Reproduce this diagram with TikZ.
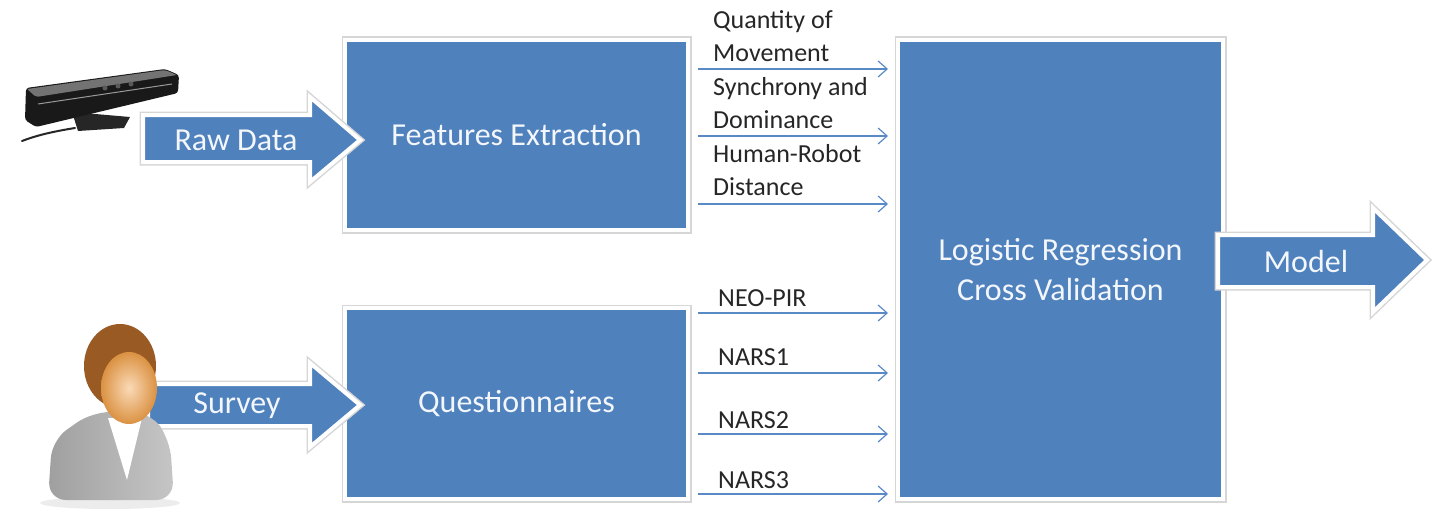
\documentclass[tikz,border=0pt]{standalone}
\usepackage{fontspec}
\setmainfont{Carlito}
\usetikzlibrary{arrows.meta,shadows}
\definecolor{boxblue}{HTML}{4F81BD}
\definecolor{lineblue}{HTML}{5A8AC6}
\definecolor{labelgray}{HTML}{262626}
\definecolor{hair}{HTML}{9A5A24}
\definecolor{skin}{HTML}{F3A24A}
\tikzset{
  rim/.style={preaction={draw=black!16, line width=7pt}, draw=white, line width=4pt},
  box/.style={fill=boxblue, rim, text=white!93!boxblue, font=\fontsize{32}{40}\selectfont, align=center, inner sep=0pt},
  bigarrow/.style={fill=boxblue, rim, line join=miter},
  arrowtext/.style={text=white!93!boxblue, font=\fontsize{32}{40}\selectfont, inner sep=0pt},
  flow/.style={draw=lineblue, line width=1.2pt, -{Straight Barb[length=9pt,width=16pt,line width=1.2pt]},
    shorten <=8pt, shorten >=8pt},
  lbl/.style={text=labelgray, font=\fontsize{26}{33}\selectfont, align=left, anchor=west, inner sep=0pt}
}
\begin{document}
\begin{tikzpicture}[x=1pt,y=-1pt]
\useasboundingbox (0,0) rectangle (1437,511);

% processing blocks
\node[box, minimum width=343pt, minimum height=190pt] (fe) at (516.5,135) {Features Extraction};
\node[box, minimum width=343pt, minimum height=191pt] (qu) at (516.5,403.5) {Questionnaires};
\node[box, minimum width=325pt, minimum height=459pt] (lr) at (1060.5,269.5) {Logistic Regression\\Cross Validation};

% input and output arrows
\path[bigarrow] (143,115) -- (310,115) -- (310,97) -- (360,140) -- (310,182) -- (310,162) -- (143,162) -- cycle;
\node[arrowtext] (raw) at (236,140) {Raw Data};
\path[bigarrow] (148,384) -- (310,384) -- (310,363) -- (360,405) -- (310,447) -- (310,426) -- (148,426) -- cycle;
\node[arrowtext] (survey) at (237,406) {Survey};
\path[bigarrow] (1218,235) -- (1373,235) -- (1373,208) -- (1427,260) -- (1373,312) -- (1373,287) -- (1218,287) -- cycle;
\node[arrowtext] (model) at (1306,261) {Model};

% feature connectors
\draw[flow] (fe.east |- 0,69) -- (lr.west |- 0,69);
\draw[flow] (fe.east |- 0,136) -- (lr.west |- 0,136);
\draw[flow] (fe.east |- 0,204) -- (lr.west |- 0,204);
\draw[flow] (qu.east |- 0,313) -- (lr.west |- 0,313);
\draw[flow] (qu.east |- 0,373) -- (lr.west |- 0,373);
\draw[flow] (qu.east |- 0,434) -- (lr.west |- 0,434);
\draw[flow] (qu.east |- 0,494) -- (lr.west |- 0,494);

\node[lbl] (l1) at (713,36) {Quantity of\\Movement};
\node[lbl] (l2) at (713,103) {Synchrony and\\Dominance};
\node[lbl] (l3) at (713,170) {Human-Robot\\Distance};
\node[lbl] (l4) at (718,298) {NEO-PIR};
\node[lbl] (l5) at (718,357) {NARS1};
\node[lbl] (l6) at (718,420) {NARS2};
\node[lbl] (l7) at (718,480) {NARS3};

% depth sensor
\draw[black!85, line width=2pt, line cap=round] (75,128) .. controls (50,132) and (35,136) .. (22,141);
\fill[black!85] (72,112) -- (130,117) -- (124,128) -- (78,131) -- cycle;
\fill[black!90, rounded corners=3pt] (26,88) -- (165,69) -- (179,75) -- (178,93) -- (36,127) -- (25,120) -- cycle;
\fill[black!55, rounded corners=2pt] (27,89) -- (165,70) -- (177,75) -- (36,97) -- cycle;
\draw[black!40, line width=1pt] (38,104) -- (172,84);
\fill[black!65] (105,88) circle (2.5pt) (118,86) circle (2.5pt) (131,84) circle (2.5pt);

% person icon
\fill[gray!25, opacity=0.6] (110,503) ellipse (70pt and 6pt);
\shade[left color=gray!75, right color=gray!45, rounded corners=18pt]
  (48,500) -- (52,440) -- (92,412) -- (150,412) -- (170,440) -- (174,500) -- cycle;
\fill[white] (108,418) -- (142,418) -- (127,480) -- cycle;
\fill[hair] (120,366) ellipse (36pt and 42pt);
\shade[inner color=skin!40!white, outer color=skin!90!black] (129,388) ellipse (28pt and 36pt);
\end{tikzpicture}
\end{document}
